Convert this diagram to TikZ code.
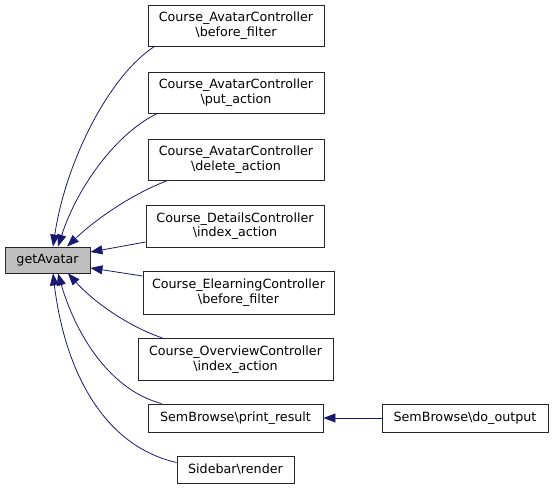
\documentclass[tikz,border=0pt]{standalone}
\usepackage{fontspec}
\setmainfont{DejaVu Sans}
\usetikzlibrary{arrows.meta}
\definecolor{edgeblue}{HTML}{191970}
\definecolor{hlgray}{HTML}{BFBFBF}
\tikzset{
  box/.style={draw=black!85, line width=0.9pt, fill=white, align=center, inner sep=0pt,
    font=\fontsize{12.7}{14.5}\selectfont},
  arr/.style={draw=edgeblue, line width=0.8pt, -{Triangle[length=12pt,width=9pt,fill=edgeblue]}},
}
\begin{document}
\begin{tikzpicture}[x=1pt,y=-1pt]
\useasboundingbox (0,0) rectangle (555,488);
\node[box, fill=hlgray, minimum width=85pt, minimum height=26pt] (ga) at (47.5,260) {getAvatar};
\node[box, minimum width=176pt, minimum height=41pt] (b1) at (236,25.5) {Course\_AvatarController\\\textbackslash before\_filter};
\node[box, minimum width=176pt, minimum height=41pt] (b2) at (236,92.5) {Course\_AvatarController\\\textbackslash put\_action};
\node[box, minimum width=176pt, minimum height=41pt] (b3) at (236,159.5) {Course\_AvatarController\\\textbackslash delete\_action};
\node[box, minimum width=178pt, minimum height=42pt] (b4) at (235,226) {Course\_DetailsController\\\textbackslash index\_action};
\node[box, minimum width=191pt, minimum height=43pt] (b5) at (238.5,292.5) {Course\_ElearningController\\\textbackslash before\_filter};
\node[box, minimum width=195pt, minimum height=42pt] (b6) at (235.5,359.5) {Course\_OverviewController\\\textbackslash index\_action};
\node[box, minimum width=175pt, minimum height=28pt] (b7) at (235.5,418) {SemBrowse\textbackslash print\_result};
\node[box, minimum width=166pt, minimum height=28pt] (b8) at (465,418) {SemBrowse\textbackslash do\_output};
\node[box, minimum width=117pt, minimum height=27pt] (b9) at (235.5,469.5) {Sidebar\textbackslash render};

\draw[arr] ([xshift=7pt]b1.south west) .. controls (110,75) and (66,160) .. ([xshift=5.5pt]ga.north);
\draw[arr] ([xshift=10pt]b2.south west) .. controls (118,132) and (78,185) .. ([xshift=10.5pt]ga.north);
\draw[arr] ([xshift=20pt]b3.south west) .. controls (130,195) and (95,220) .. ([xshift=19.5pt]ga.north);
\draw[arr] ([yshift=-16pt]b4.west) -- ([yshift=8pt]ga.east);
\draw[arr] ([yshift=16.5pt]b5.west) -- ([yshift=-8pt]ga.east);
\draw[arr] ([xshift=25pt]b6.north west) .. controls (125,325) and (92,300) .. ([xshift=20.5pt]ga.south);
\draw[arr] ([xshift=14pt]b7.north west) .. controls (110,390) and (76,335) .. ([xshift=10.5pt]ga.south);
\draw[arr] ([yshift=7pt]b9.west) .. controls (100,445) and (64,365) .. ([xshift=5.5pt]ga.south);
\draw[arr] (b8.west) -- (b7.east);
\end{tikzpicture}
\end{document}
